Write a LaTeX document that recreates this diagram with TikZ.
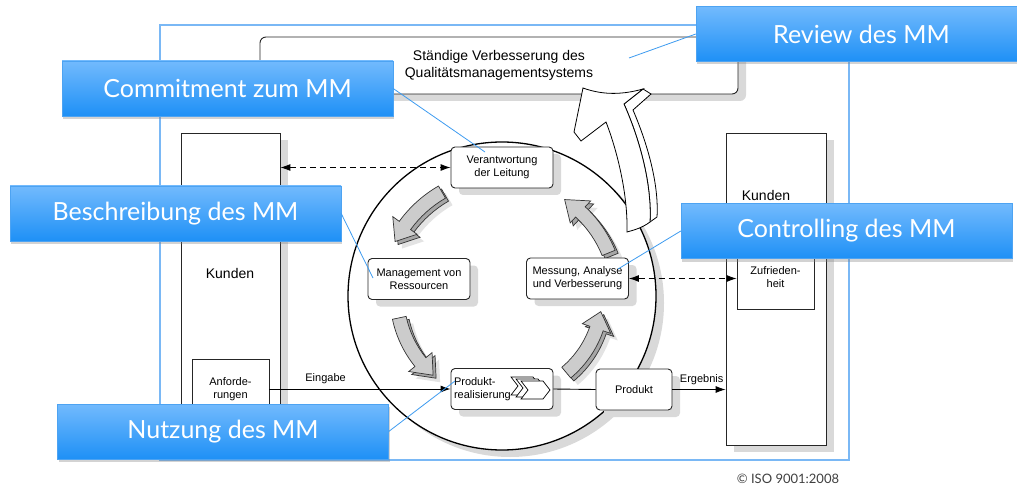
\documentclass[tikz,border=0pt]{standalone}
\usepackage{fontspec}
\newfontfamily\diagfont{Liberation Sans}
\newfontfamily\callfont{Lato}
\usetikzlibrary{arrows.meta,shadows}

\definecolor{frameblue}{HTML}{7AB8F5}
\definecolor{calltop}{HTML}{72BAFD}
\definecolor{callbot}{HTML}{1E90F6}
\definecolor{calledge}{HTML}{4DA3F2}
\definecolor{lineblue}{HTML}{3D9BF0}

\tikzset{
  boxshadow/.style={general shadow={fill=gray!30, shadow xshift=8pt, shadow yshift=-7pt}},
  procbox/.style={draw=black!85, line width=0.9pt, rounded corners=4pt, fill=white, boxshadow,
    minimum width=102pt, minimum height=41pt, inner sep=2pt, align=center,
    font=\diagfont\fontsize{11}{13}\selectfont},
  plainbox/.style={draw=black!85, line width=0.8pt, fill=white, align=center,
    font=\diagfont\fontsize{11}{13}\selectfont},
  bigtext/.style={font=\diagfont\fontsize{14}{17}\selectfont},
  callout/.style={rectangle, draw=calledge, top color=calltop, bottom color=callbot, text=white,
    minimum width=331pt, minimum height=55pt, font=\callfont\fontsize{25}{30}\selectfont,
    drop shadow={opacity=0.35, shadow xshift=1pt, shadow yshift=-3pt}},
  callline/.style={lineblue, line width=0.8pt},
  flow/.style={draw=black, line width=0.9pt, >={Latex[length=10pt,width=7pt]}, ->},
  flowdash/.style={flow, <->, dash pattern=on 6pt off 4pt},
  arrowfill/.style={fill=gray!40, draw=black!80, line width=0.7pt},
  arrowside/.style={fill=gray!70, draw=black!80, line width=0.7pt},
  arrowshade/.style={fill=gray!22, draw=none},
}

% start angle, head base angle, tip angle, radius
\newcommand{\cyclearrow}[4]{%
  \pgfmathsetmacro\arO{#4+7}\pgfmathsetmacro\arI{#4-7}%
  \pgfmathsetmacro\arHo{#4+15}\pgfmathsetmacro\arHi{#4-15}%
  \foreach \dd/\st in {7/arrowshade,3/arrowside,0/arrowfill}
    \filldraw[\st, shift={(\dd,\dd)}] (#1:\arO) arc[start angle=#1, end angle=#2, radius=\arO]
      -- (#2:\arHo) -- (#3:#4) -- (#2:\arHi) -- (#2:\arI)
      arc[start angle=#2, end angle=#1, radius=\arI] -- cycle;}

\begin{document}
\begin{tikzpicture}[x=1pt, y=-1pt]
  \useasboundingbox (0,0) rectangle (1017,489);

  \draw[frameblue, line width=1.1pt] (160,25) rectangle (849,460);

  \node[plainbox, boxshadow, minimum width=99pt, minimum height=312pt] (kundenL) at (230.5,289) {};
  \node[plainbox, boxshadow, minimum width=100pt, minimum height=312pt] (kundenR) at (776,289) {};
  \node[bigtext] (kundenLtxt) at (230,273) {Kunden};
  \node[bigtext] (kundenRtxt) at (766,195) {Kunden};
  \node[plainbox, minimum width=77pt, minimum height=60pt] (anf) at (230.5,389) {Anforde-\\rungen};
  \node[plainbox, minimum width=77pt, minimum height=64pt] (zuf) at (775.5,277) {Zufrieden-\\heit};

  \node[procbox, rounded corners=6pt, minimum width=478pt, minimum height=57pt, bigtext] (topbox)
    at (499,65.5) {Ständige Verbesserung des\\Qualitätsmanagementsystems};

  \node[circle, draw=black, line width=1.3pt, fill=white, boxshadow, minimum size=308pt] (cycle) at (502,296) {};

  \begin{scope}[shift={(502,296)}]
    \cyclearrow{240}{216}{207}{120}
    \cyclearrow{168}{141}{131}{105}
    \cyclearrow{50}{19}{9}{100}
    \cyclearrow{-22}{-47}{-57}{115}
  \end{scope}

  \node[procbox] (verant) at (502,167.5) {Verantwortung\\der Leitung};
  \node[procbox] (mgmt) at (419,279) {Management von\\Ressourcen};
  \node[procbox] (mess) at (577.5,278.5) {Messung, Analyse\\und Verbesserung};
  \node[procbox, align=left, text width=96pt] (real) at (502,389) {Produkt-\\realisierung};
  \node[procbox, minimum width=76pt] (produkt) at (634,389.5) {Produkt};

  \foreach \s in {10,5,0}
    \draw[fill=white, line width=0.7pt, shift={(521-\s,381-0.4*\s)}]
      (0,0) -- (22,0) -- (29,9) -- (22,18) -- (0,18) -- (7,9) -- cycle;

  \draw[flowdash] (verant.west -| kundenL.east) -- (verant.west);
  \draw[flowdash] (mess.east) -- (mess.east -| zuf.west);
  \draw[flow] (anf.east) -- node[above=1pt, pos=0.31, font=\diagfont\fontsize{11}{13}\selectfont] {Eingabe} (real.west);
  \draw[line width=0.9pt] (real.east) -- (produkt.west);
  \draw[flow] (produkt.east) -- node[above=1pt, pos=0.55, font=\diagfont\fontsize{11}{13}\selectfont] {Ergebnis} (produkt.east -| kundenR.west);

  \draw[fill=white, line width=0.8pt] (643,89) -- (651,94) -- (633,110)
    .. controls (648,145) and (659,185) .. (657,217) -- (650,222)
    .. controls (652,185) and (640,140) .. (624,104) -- cycle;
  \draw[fill=white, line width=0.8pt] (627,232) .. controls (628,190) and (615,145) .. (606,122)
    -- (581,141) -- (574,132) -- (583,88) .. controls (605,96) and (625,94) .. (643,89)
    -- (624,104) .. controls (640,140) and (652,185) .. (650,222)
    .. controls (642,228) and (634,230) .. cycle;

  \coordinate (reviewpt) at (629,58);
  \coordinate (commitpt) at (485,152);
  \coordinate (beschrpt) at (373,278);
  \coordinate (ctrlpt) at (618,269);
  \coordinate (nutzpt) at (455,381);

  \node[callout] (review) at (861.5,34) {Review des MM};
  \node[callout] (commit) at (227.5,88.5) {Commitment zum MM};
  \node[callout] (beschr) at (175.5,213.5) {Beschreibung des MM};
  \node[callout] (ctrl) at (846.5,231) {Controlling des MM};
  \node[callout] (nutz) at (223,431.5) {Nutzung des MM};

  \draw[callline] (review.west) -- (reviewpt);
  \draw[callline] (commit.east) -- (commitpt);
  \draw[callline] (beschr.east) -- (beschrpt);
  \draw[callline] (ctrl.west) -- (ctrlpt);
  \draw[callline] (nutz.east) -- (nutzpt);

  \node[font=\callfont\fontsize{13}{15}\selectfont, text=black!75] (copyr) at (788,479) {© ISO 9001:2008};
\end{tikzpicture}
\end{document}
